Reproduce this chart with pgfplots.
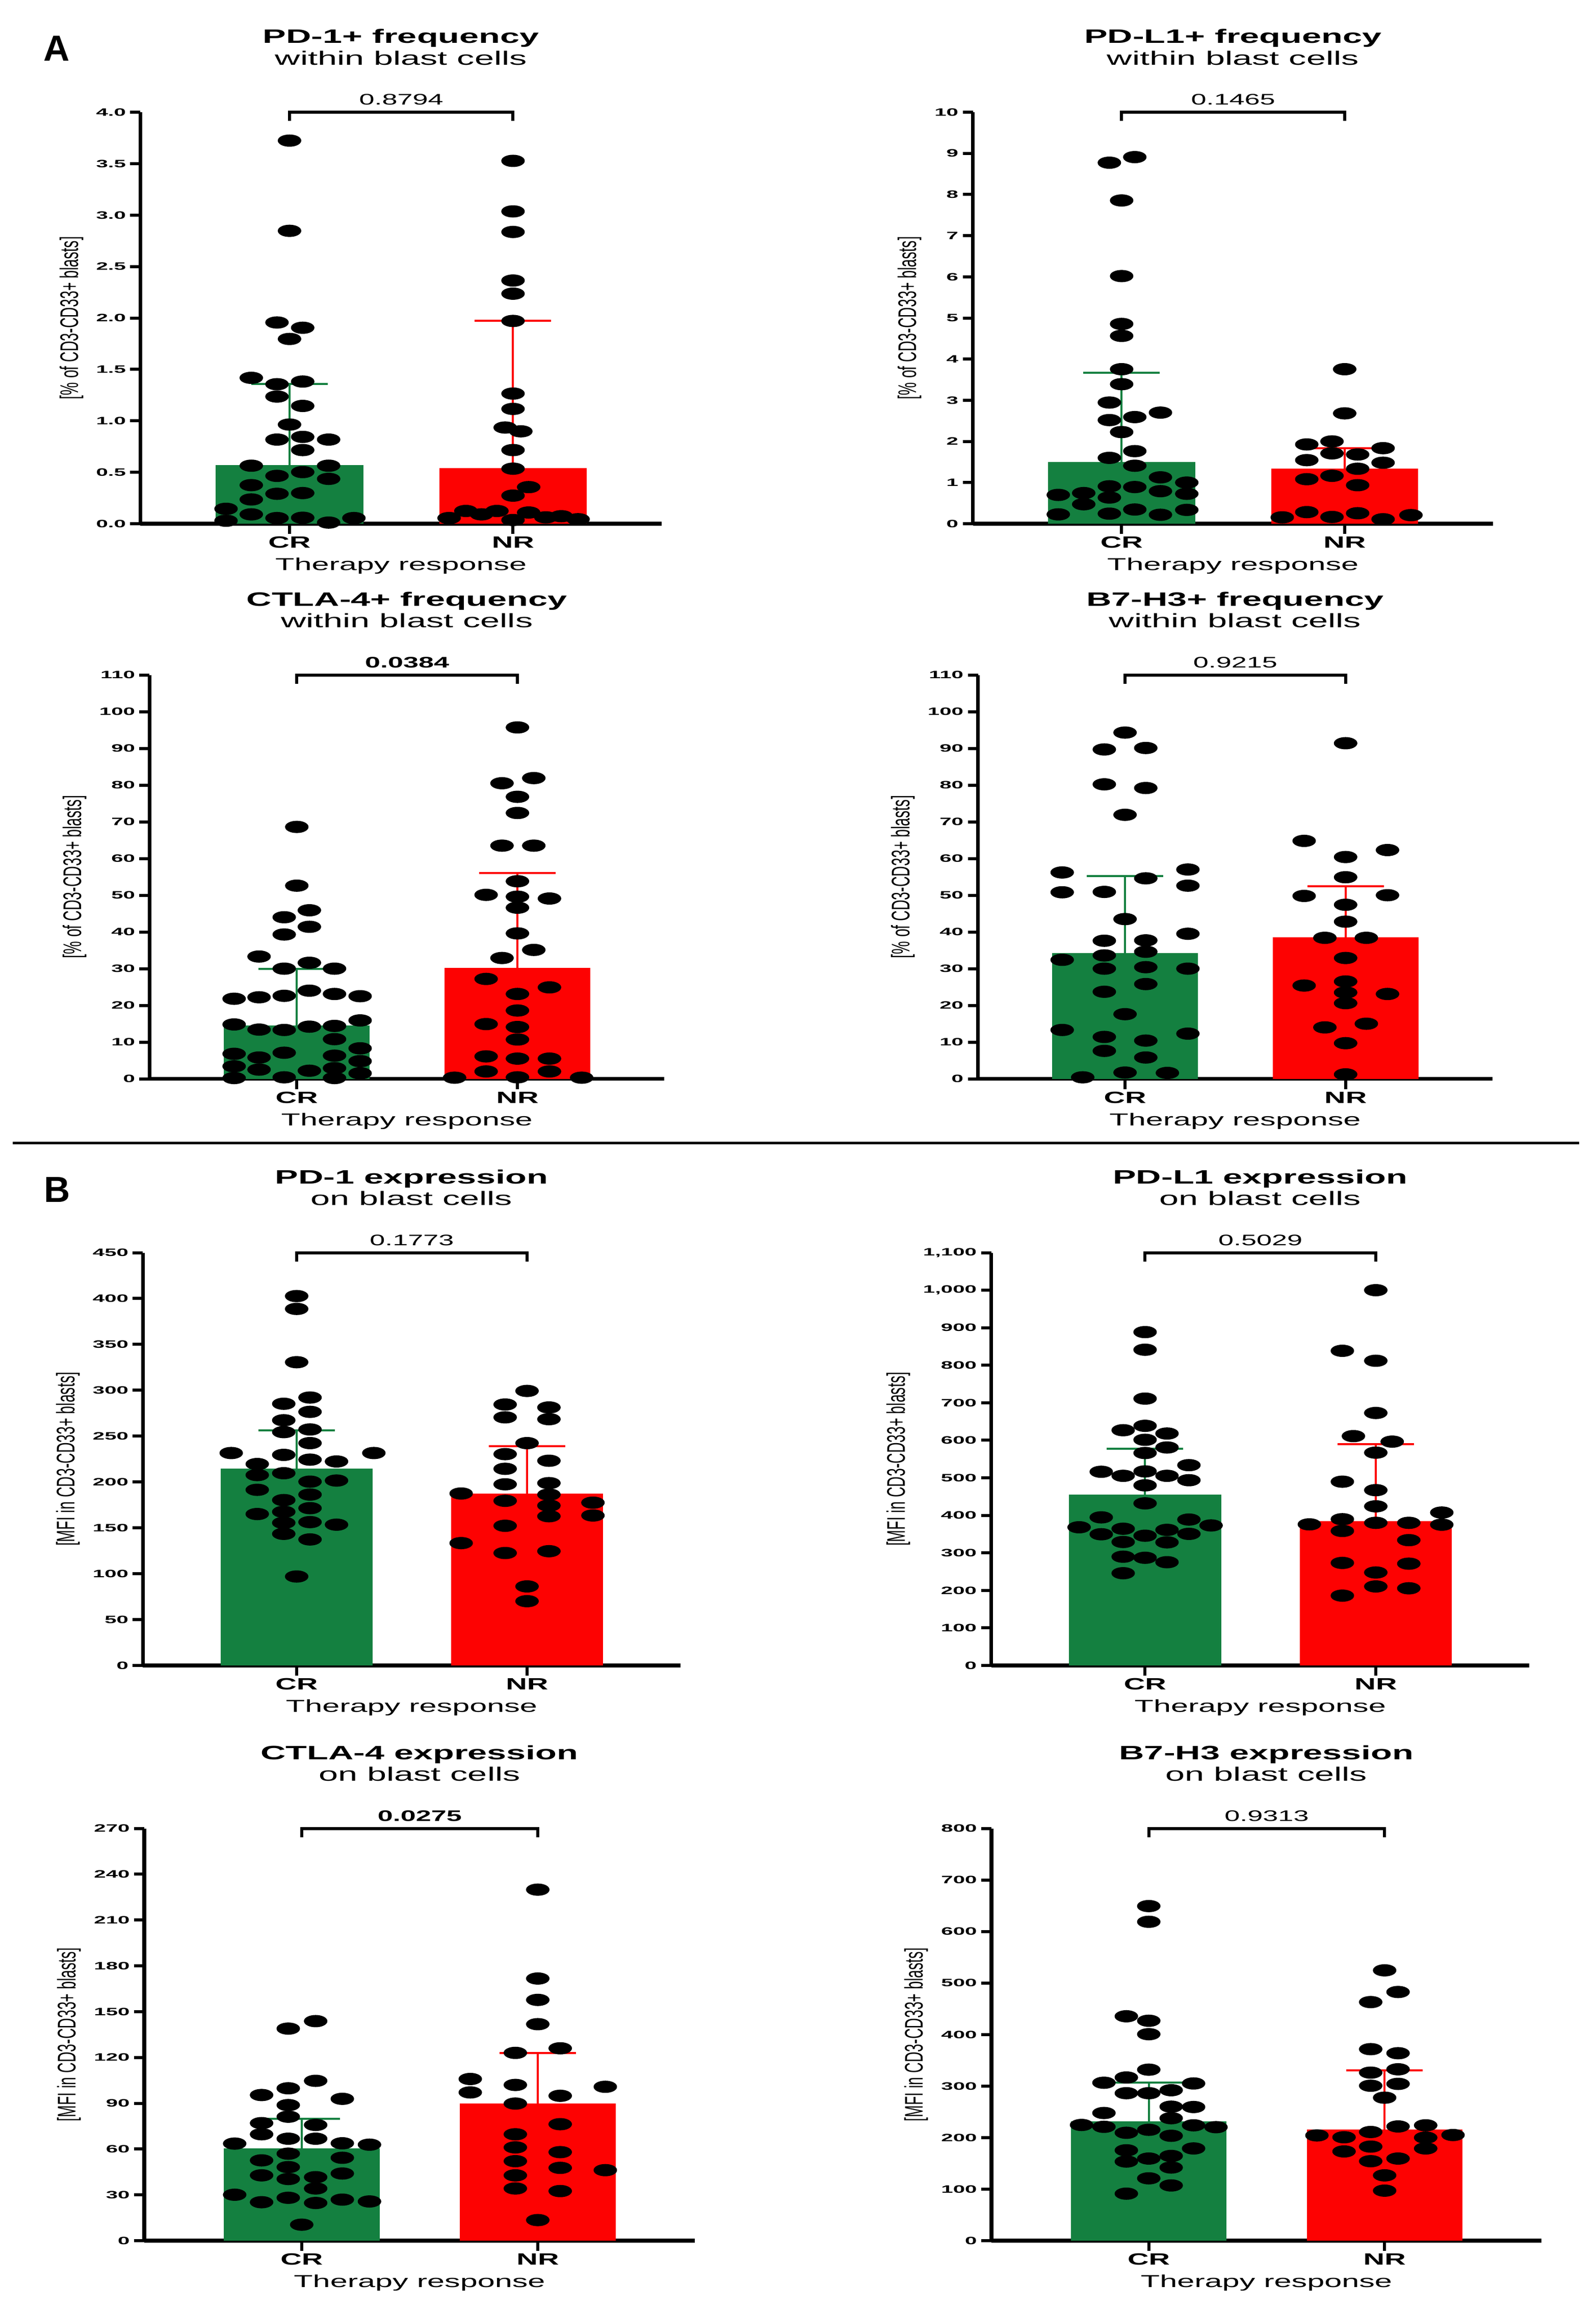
\documentclass[border=0pt]{standalone}
\usepackage{fontspec}
\usepackage{pgfplots}
\pgfplotsset{compat=1.18}
\setmainfont{Liberation Sans}
\newfontfamily\wide[FakeStretch=1.8]{Liberation Sans}
\newfontfamily\xwide[FakeStretch=2.0]{Liberation Sans}
\newfontfamily\narrow[FakeStretch=0.57]{Liberation Sans}
\definecolor{crgreen}{RGB}{20,128,64}
\definecolor{nrred}{RGB}{253,2,2}
\pgfplotsset{
  panel/.style={
    scale only axis, anchor=south west, clip=false,
    xmin=-0.667, xmax=1.665, ymin=0,
    axis x line*=bottom, axis y line*=left,
    axis line style={line width=1.5pt, black},
    tick style={line width=1.2pt, black},
    tick align=outside, major tick length=4pt,
    xtick={0,1}, xticklabels={},
    /pgf/number format/assume math mode=true,
    yticklabel style={font=\xwide\bfseries\fontsize{4.2}{5}\selectfont, inner sep=1.5pt},
    ylabel style={font=\narrow\fontsize{10}{12}\selectfont},
  },
  crbar/.style={ybar, bar width=0.66, bar shift=0pt, fill=crgreen, draw=none,
    error bars/.cd, y dir=plus, y explicit,
    error bar style={line width=0.8pt, crgreen},
    error mark options={rotate=90, mark size=15pt, line width=0.8pt, crgreen}},
  nrbar/.style={ybar, bar width=0.66, bar shift=0pt, fill=nrred, draw=none,
    error bars/.cd, y dir=plus, y explicit,
    error bar style={line width=0.8pt, nrred},
    error mark options={rotate=90, mark size=15pt, line width=0.8pt, nrred}},
  dots/.style={only marks, mark=*, mark size=2.2pt, mark options={xscale=2, fill=black, draw=black}},
}
% title, pvalue, bracket, category labels
\newcommand\decor[5]{% #1 title bold, #2 title line 2, #3 p-value, #4 ymax, #5 bold p?
  \node[anchor=base, font=\wide\bfseries\fontsize{7.6}{9}\selectfont] at ([yshift=27.1pt]rel axis cs:0.5,1) {#1};
  \node[anchor=base, font=\wide\fontsize{7.6}{9}\selectfont] at ([yshift=18.6pt]rel axis cs:0.5,1) {#2};
  \node[anchor=base, font=\wide#5\fontsize{6}{7}\selectfont] at ([yshift=2.9pt]axis cs:0.5,#4) {#3};
  \draw[line width=1.2pt] ([yshift=-3.4pt]axis cs:0,#4) -- (axis cs:0,#4) -- (axis cs:1,#4) -- ([yshift=-3.4pt]axis cs:1,#4);
  \node[anchor=base, font=\wide\bfseries\fontsize{6.4}{7}\selectfont] at ([yshift=-9.5pt]axis cs:0,0) {CR};
  \node[anchor=base, font=\wide\bfseries\fontsize{6.4}{7}\selectfont] at ([yshift=-9.5pt]axis cs:1,0) {NR};
  \node[anchor=base, font=\wide\fontsize{6.8}{8}\selectfont] at ([yshift=-18.3pt]rel axis cs:0.5,0) {Therapy response};
}
\begin{document}
\begin{tikzpicture}
\useasboundingbox (0,0) rectangle (626.2pt,-905.6pt);
\node[font=\bfseries\fontsize{14.2}{16}\selectfont] at (22.2pt,-19pt) {A};
\node[font=\bfseries\fontsize{14.2}{16}\selectfont] at (22.4pt,-466.6pt) {B};
\draw[line width=1pt] (5pt,-448.2pt) -- (619.6pt,-448.2pt);

% ---------- A1 ----------
\begin{axis}[panel, at={(55.1pt,-205.4pt)}, width=204.5pt, height=161.4pt,
  ymax=4, ytick={0,0.5,...,4},
  yticklabel style={/pgf/number format/.cd, fixed, fixed zerofill, precision=1},
  ylabel={[\% of CD3-CD33+ blasts]}]
\addplot[crbar] coordinates {(0,0.571) +- (0,0.785)};
\addplot[nrbar] coordinates {(1,0.538) +- (0,1.433)};
\addplot[dots] coordinates {(0,3.724) (0,2.847) (-0.056,1.956) (0.059,1.905) (0,1.796) (-0.171,1.418) (-0.056,1.356) (0.059,1.382) (-0.056,1.236) (0.059,1.145) (0,0.964) (-0.056,0.818) (0.059,0.844) (0.175,0.818) (0.059,0.716) (-0.171,0.564) (0.175,0.564) (-0.056,0.465) (0.059,0.502) (0.175,0.436) (-0.171,0.375) (-0.171,0.236) (-0.056,0.291) (0.059,0.298) (-0.284,0.145) (-0.171,0.091) (-0.284,0.029) (-0.056,0.055) (0.059,0.058) (0.175,0.011) (0.288,0.055)};
\addplot[dots] coordinates {(1,3.527) (1,3.036) (1,2.836) (1,2.364) (1,2.236) (1,1.971) (1,1.265) (1,1.116) (0.965,0.935) (1.035,0.898) (1,0.716) (1,0.535) (1.070,0.356) (1,0.273) (1.070,0.109) (0.789,0.124) (0.928,0.124) (0.859,0.091) (0.714,0.055) (1,0.036) (1.147,0.062) (1.216,0.073) (1.291,0.044)};
\decor{PD-1+ frequency}{within blast cells}{0.8794}{4}{}
\end{axis}

% ---------- A2 ----------
\begin{axis}[panel, at={(381.7pt,-205.4pt)}, width=204.1pt, height=161.4pt,
  ymax=10, ytick={0,1,...,10},
  ylabel={[\% of CD3-CD33+ blasts]}]
\addplot[crbar] coordinates {(0,1.5) +- (0,2.164)};
\addplot[nrbar] coordinates {(1,1.336) +- (0,0.5)};
\addplot[dots] coordinates {(-0.055,8.773) (0.059,8.909) (0,7.855) (0,6.018) (0,4.855) (0,4.564) (0,3.755) (0,3.391) (-0.055,2.945) (-0.055,2.518) (0.059,2.591) (0.174,2.700) (0,2.227) (0.059,1.764) (-0.055,1.600) (0.059,1.409) (0.174,1.127) (0.292,1.000) (-0.055,0.909) (0.059,0.891) (0.174,0.791) (0.292,0.727) (-0.284,0.700) (-0.170,0.745) (-0.055,0.636) (-0.170,0.473) (-0.284,0.227) (-0.055,0.245) (0.059,0.345) (0.174,0.218) (0.292,0.336)};
\addplot[dots] coordinates {(1,3.755) (1,2.682) (0.830,1.927) (0.943,2.0) (1.172,1.836) (0.943,1.709) (1.058,1.682) (0.830,1.545) (1.172,1.482) (1.058,1.336) (0.830,1.082) (0.943,1.164) (1.058,0.936) (0.720,0.155) (0.830,0.282) (0.943,0.164) (1.058,0.255) (1.172,0.109) (1.297,0.209)};
\decor{PD-L1+ frequency}{within blast cells}{0.1465}{10}{}
\end{axis}

% ---------- A3 ----------
\begin{axis}[panel, at={(58.7pt,-423.1pt)}, width=201.9pt, height=158.4pt,
  ymax=110, ytick={0,10,...,110},
  ylabel={[\% of CD3-CD33+ blasts]}]
\addplot[crbar] coordinates {(0,14.5) +- (0,15.5)};
\addplot[nrbar] coordinates {(1,30.2) +- (0,25.9)};
\addplot[dots] coordinates {(0,68.6) (0,52.6) (-0.057,44.0) (0.057,45.9) (-0.057,39.3) (0.057,41.4) (-0.171,33.3) (-0.057,30.0) (0.057,31.6) (0.171,30.0) (-0.284,21.8) (-0.171,22.2) (-0.057,22.6) (0.057,24.0) (0.171,23.1) (0.287,22.5) (-0.284,14.8) (-0.171,13.4) (-0.057,13.3) (0.057,14.2) (0.171,14.4) (0.287,15.9) (0.171,10.8) (0.287,8.3) (-0.284,6.8) (-0.171,5.8) (-0.057,7.1) (0.171,6.3) (0.287,4.8) (-0.284,3.4) (-0.171,2.5) (0.057,2.2) (0.171,2.9) (0.287,1.5) (-0.284,0.2) (-0.057,0.4) (0.171,0.2)};
\addplot[dots] coordinates {(1,95.7) (0.930,80.5) (1.074,81.9) (1,76.8) (1,72.4) (0.930,63.5) (1.074,63.5) (1,53.8) (0.858,50.1) (1,49.6) (1.145,49.1) (1,46.6) (1,39.6) (1.074,35.1) (0.930,32.9) (0.858,27.2) (1.145,24.9) (1,23.1) (1,18.6) (0.858,14.9) (1,14.1) (1,10.7) (0.858,6.1) (1,5.5) (1.145,5.5) (0.858,2.0) (1.145,2.0) (0.715,0.3) (1,0.4) (1.291,0.3)};
\decor{CTLA-4+ frequency}{within blast cells}{0.0384}{110}{\bfseries}
\end{axis}

% ---------- A4 ----------
\begin{axis}[panel, at={(383.7pt,-423.1pt)}, width=201.8pt, height=158.4pt,
  ymax=110, ytick={0,10,...,110},
  ylabel={[\% of CD3-CD33+ blasts]}]
\addplot[crbar] coordinates {(0,34.2) +- (0,21.0)};
\addplot[nrbar] coordinates {(1,38.5) +- (0,14.0)};
\addplot[dots] coordinates {(0,94.3) (-0.094,89.7) (0.094,90.1) (-0.094,80.2) (0.094,79.2) (0,71.9) (-0.285,56.2) (0.285,57.0) (0.094,54.6) (-0.285,50.8) (-0.094,50.9) (0.285,52.6) (0,43.5) (-0.094,37.6) (0.094,37.7) (0.285,39.5) (-0.094,33.6) (0.094,34.6) (-0.285,32.4) (-0.094,30.0) (0.094,30.4) (0.285,30.0) (0.094,25.8) (-0.094,23.7) (0,17.6) (-0.285,13.3) (0.285,12.3) (-0.094,11.4) (0.094,10.4) (-0.094,7.6) (0.094,5.8) (0,1.7) (0.192,1.6) (-0.192,0.4)};
\addplot[dots] coordinates {(1,91.4) (0.812,64.8) (1.190,62.3) (1,60.4) (1,54.9) (0.812,49.8) (1.190,50.0) (1,47.4) (1,42.8) (0.906,38.4) (1.094,38.4) (1,32.9) (1,26.5) (0.812,25.4) (1,23.5) (1.190,23.1) (1,20.6) (0.906,14.0) (1.094,15.0) (1,9.7) (1,1.2)};
\decor{B7-H3+ frequency}{within blast cells}{0.9215}{110}{}
\end{axis}

% ---------- B1 ----------
\begin{axis}[panel, at={(56.1pt,-653.2pt)}, width=210.8pt, height=161.9pt,
  ymax=450, ytick={0,50,...,450},
  ylabel={[MFI in CD3-CD33+ blasts]}]
\addplot[crbar] coordinates {(0,214.4) +- (0,42.1)};
\addplot[nrbar] coordinates {(1,187.5) +- (0,51.7)};
\addplot[dots] coordinates {(0,402.7) (0,388.7) (0,330.6) (-0.056,285.3) (0.058,292.1) (0.058,276.5) (-0.056,267.3) (-0.056,254.4) (0.058,257.3) (0.058,242.4) (-0.284,231.6) (0.335,231.6) (-0.056,229.6) (0.058,224.4) (0.173,222.4) (-0.171,219.6) (-0.171,207.6) (-0.056,209.6) (0.058,200.4) (0.173,201.6) (-0.171,191.5) (0.058,186.3) (-0.056,180.3) (0.058,171.5) (-0.171,165.1) (-0.056,167.5) (-0.056,155.5) (0.058,156.3) (0.173,153.5) (-0.056,143.5) (0.058,137.4) (0,97.0)};
\addplot[dots] coordinates {(1,299.3) (0.905,284.5) (1.095,281.3) (0.905,270.5) (1.095,268.5) (1,242.4) (0.905,230.4) (1.095,223.2) (0.905,214.4) (0.905,197.5) (1.095,198.8) (0.714,187.5) (1.095,186.3) (0.905,179.5) (1.286,177.5) (1.095,174.3) (1.095,162.7) (1.286,163.5) (0.905,152.3) (0.714,133.4) (0.905,122.6) (1.095,124.6) (1,86.2) (1,70.1)};
\decor{PD-1 expression}{on blast cells}{0.1773}{450}{}
\end{axis}

% ---------- B2 ----------
\begin{axis}[panel, at={(388.9pt,-653.2pt)}, width=211.1pt, height=161.9pt,
  ymax=1100, ytick={0,100,...,1100},
  yticklabel style={/pgf/number format/1000 sep={,}},
  ylabel={[MFI in CD3-CD33+ blasts]}]
\addplot[crbar] coordinates {(0,455.5) +- (0,121.5)};
\addplot[nrbar] coordinates {(1,385.0) +- (0,204.7)};
\addplot[dots] coordinates {(0,888.4) (0,841.4) (0,711.1) (-0.095,626.9) (0,638.6) (0.095,618.1) (0,601.4) (0.095,580.9) (0,566.2) (-0.190,516.2) (-0.095,505.4) (0,517.2) (0.095,505.4) (0.190,533.8) (0.190,493.7) (0,480.0) (0,432.0) (-0.190,394.7) (0.190,388.9) (-0.286,368.3) (-0.095,364.4) (0.095,361.4) (0.286,373.2) (-0.190,349.7) (0,345.8) (0.190,350.7) (-0.095,329.1) (0.095,328.1) (-0.095,289.9) (0,287.0) (0.095,275.2) (-0.095,245.9)};
\addplot[dots] coordinates {(1,1000.1) (0.855,838.5) (1,812.0) (1,672.9) (0.903,611.2) (1.071,596.5) (1,567.1) (0.855,489.8) (1,467.2) (1,424.1) (1.286,407.5) (0.855,389.8) (0.712,376.1) (1,380.1) (1.143,380.1) (1.286,375.2) (0.855,358.5) (1.143,334.0) (0.855,273.3) (1.143,271.3) (1,247.8) (1,210.6) (1.143,205.7) (0.855,186.1)};
\decor{PD-L1 expression}{on blast cells}{0.5029}{1100}{}
\end{axis}

% ---------- B3 ----------
\begin{axis}[panel, at={(56.6pt,-878.8pt)}, width=216.0pt, height=161.7pt,
  ymax=270, ytick={0,30,...,270},
  ylabel={[MFI in CD3-CD33+ blasts]}]
\addplot[crbar] coordinates {(0,60.4) +- (0,19.6)};
\addplot[nrbar] coordinates {(1,90.0) +- (0,32.8)};
\addplot[dots] coordinates {(0.059,143.8) (-0.057,138.9) (0.059,104.7) (-0.057,99.8) (-0.170,95.4) (0.172,92.9) (-0.057,88.8) (-0.057,81.2) (-0.170,77.0) (0.059,75.8) (-0.170,69.7) (-0.057,66.8) (0.059,66.8) (-0.284,63.6) (0.172,63.8) (0.287,62.9) (-0.170,52.6) (-0.057,57.0) (0.172,54.3) (-0.057,48.2) (-0.170,42.8) (0.172,44.0) (-0.057,40.4) (0.059,41.6) (0.059,34.2) (-0.284,30.1) (-0.057,28.1) (0.172,26.9) (-0.170,25.2) (0.059,24.7) (0.287,25.7) (0,10.5)};
\addplot[dots] coordinates {(1,229.9) (1,171.7) (1,157.7) (1,141.8) (0.905,123.0) (1.095,126.0) (0.714,105.9) (0.714,97.1) (0.905,102.0) (1.286,100.8) (1.095,94.9) (0.905,89.8) (1.095,76.3) (0.905,69.7) (0.905,61.1) (1.095,58.0) (0.905,52.1) (1.095,47.7) (1.286,46.2) (0.905,42.8) (0.905,34.2) (1.095,32.5) (1,13.5)};
\decor{CTLA-4 expression}{on blast cells}{0.0275}{270}{\bfseries}
\end{axis}

% ---------- B4 ----------
\begin{axis}[panel, at={(389.0pt,-878.8pt)}, width=215.8pt, height=161.7pt,
  ymax=800, ytick={0,100,...,800},
  ylabel={[MFI in CD3-CD33+ blasts]}]
\addplot[crbar] coordinates {(0,231.9) +- (0,74.6)};
\addplot[nrbar] coordinates {(1,215.9) +- (0,114.5)};
\addplot[dots] coordinates {(0,649.3) (0,618.8) (-0.095,435.5) (0,426.8) (0,400.7) (0,331.9) (-0.095,316.7) (-0.190,306.5) (0.190,305.1) (-0.095,286.2) (0,286.2) (0.095,292.0) (0.095,260.1) (0.190,259.4) (-0.190,247.8) (0.095,237.7) (-0.285,224.6) (-0.190,221.0) (0.190,223.9) (0.285,220.3) (-0.095,209.4) (0,215.2) (0.095,203.6) (-0.095,175.4) (0.190,179.0) (0,159.4) (0.095,164.5) (-0.095,153.6) (0.095,142.0) (0,121.0) (0.095,107.2) (-0.095,91.3)};
\addplot[dots] coordinates {(1,524.6) (1.057,482.6) (0.941,463.0) (0.941,371.7) (1.057,363.8) (0.941,326.1) (1.057,332.6) (0.941,300.7) (1.057,304.3) (1,277.5) (1.057,221.7) (1.174,223.9) (0.941,210.9) (0.713,204.3) (0.828,200.7) (1.174,200.0) (1.290,205.1) (0.941,182.6) (0.828,173.2) (1.174,179.0) (0.941,154.3) (1.057,159.4) (1,126.8) (1,97.1)};
\decor{B7-H3 expression}{on blast cells}{0.9313}{800}{}
\end{axis}
\end{tikzpicture}
\end{document}
